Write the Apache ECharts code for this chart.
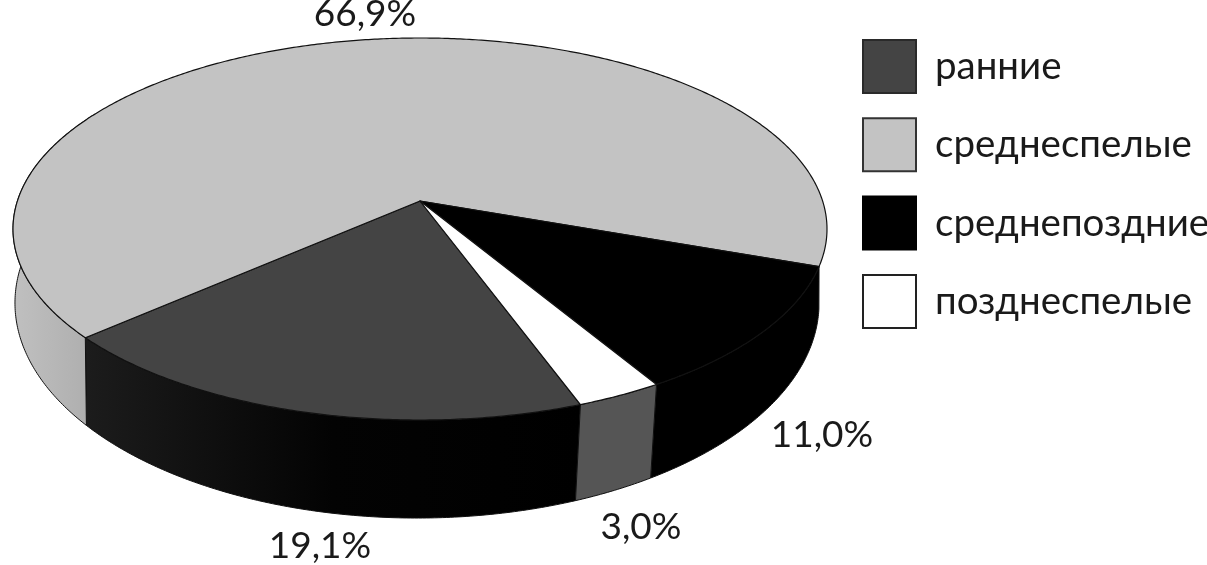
<!DOCTYPE html>
<html><head><meta charset="utf-8">
<style>html,body{margin:0;padding:0;background:#fff}#c{width:1207px;height:565px}</style>
<script src="https://cdn.jsdelivr.net/npm/echarts@6/dist/echarts.min.js"></script>
</head><body><div id="c"></div>
<script>
const categories = ['ранние', 'среднеспелые', 'среднепоздние', 'позднеспелые'];
const values = [19.1, 66.9, 11.0, 3.0];

const FONT = 'Lato, "Open Sans", sans-serif';
const START_DEG = 159.9;
const TOP_FACE = {cx: 420, cy: 201, a: 186.9, b: 402.6, k: 0.1466};
const BOTTOM_FACE = {cx: 417, cy: 271.5, a: 210.4, b: 397.7, k: 0.1466};
const TOP_FILL = ['#444444', '#c3c3c3', '#000000', '#ffffff'];
const LEGEND_BORDER = ['#2a2a2a', '#333333', '#000000', '#222222'];
const LABEL_POS = [[320, 546], [365, 14], [822, 435], [641, 527]];
const VISIBLE_SIDE_END = 300;
const SILHOUETTE_START = 100;
const G = echarts.graphic.LinearGradient;
const SIDE_FILL = [
  new G(0, 0, 1, 0, [{offset: 0, color: '#1c1c1c'}, {offset: 0.5, color: '#030303'}, {offset: 1, color: '#000000'}]),
  new G(0, 0, 1, 0, [{offset: 0, color: '#c0c0c0'}, {offset: 1, color: '#adadad'}]),
  '#000000',
  '#555555'
];

function project(face, deg) {
  const t = deg * Math.PI / 180, u = Math.sin(t), v = -Math.cos(t), d = 1 - face.k * v;
  return [face.cx + face.b * u / d, face.cy + face.a * v / d];
}
function arc(face, from, to) {
  const n = Math.max(2, Math.ceil(Math.abs(to - from) * 2)), pts = [];
  for (let i = 0; i <= n; i++) pts.push(project(face, from + (to - from) * i / n));
  return pts;
}
const total = values.reduce((s, x) => s + x, 0);
function span(i) {
  let a = START_DEG;
  for (let j = 0; j < i; j++) a += values[j] / total * 360;
  if (a >= 360) a -= 360;
  return [a, a + values[i] / total * 360];
}
function makeRender(i) {
  return function (params, api) {
    const [from, to] = span(i);
    const rim = arc(TOP_FACE, from, to);
    // the part of the wall that faces the viewer
    const wallTo = Math.min(to, VISIBLE_SIDE_END);
    const wallRim = arc(TOP_FACE, from, wallTo);
    // the wall that meets the right-hand silhouette bulges past its slice edge
    const baseFrom = from > SILHOUETTE_START && from < 120 ? SILHOUETTE_START : from;
    const base = arc(BOTTOM_FACE, baseFrom, wallTo).reverse();
    const children = [{
      type: 'polygon',
      shape: {points: wallRim.concat(base)},
      style: {fill: SIDE_FILL[i], stroke: '#111111', lineWidth: 1}
    }, {
      type: 'polygon',
      shape: {points: [[TOP_FACE.cx, TOP_FACE.cy]].concat(rim)},
      style: {fill: TOP_FILL[i], stroke: '#111111', lineWidth: 1.2, lineJoin: 'round'}
    }, {
      type: 'text',
      style: {
        x: LABEL_POS[i][0], y: LABEL_POS[i][1],
        text: api.value(0).toFixed(1).replace('.', ',') + '%',
        fill: '#1a1a1a', font: '37px ' + FONT, textAlign: 'center', textVerticalAlign: 'middle'
      }
    }];
    return {type: 'group', children};
  };
}
const chart = echarts.init(document.getElementById('c'), null, {renderer: 'canvas'});
chart.setOption({
  animation: false,
  backgroundColor: '#ffffff',
  legend: {
    orient: 'vertical', left: 862, top: 39, padding: 0,
    itemWidth: 53, itemHeight: 53, itemGap: 23.3,
    icon: 'rect',
    selectedMode: false,
    textStyle: {fontFamily: FONT, fontSize: 38.5, color: '#1a1a1a', padding: [0, 0, 0, 14]},
    data: categories.map((name, i) => ({
      name, icon: 'rect',
      itemStyle: {color: TOP_FILL[i], borderColor: LEGEND_BORDER[i], borderWidth: 2}
    }))
  },
  series: categories.map((name, i) => ({
    type: 'custom', name, coordinateSystem: 'none', silent: true, clip: false,
    itemStyle: {color: TOP_FILL[i]},
    data: [[values[i]]],
    renderItem: makeRender(i)
  }))
});
</script></body></html>
